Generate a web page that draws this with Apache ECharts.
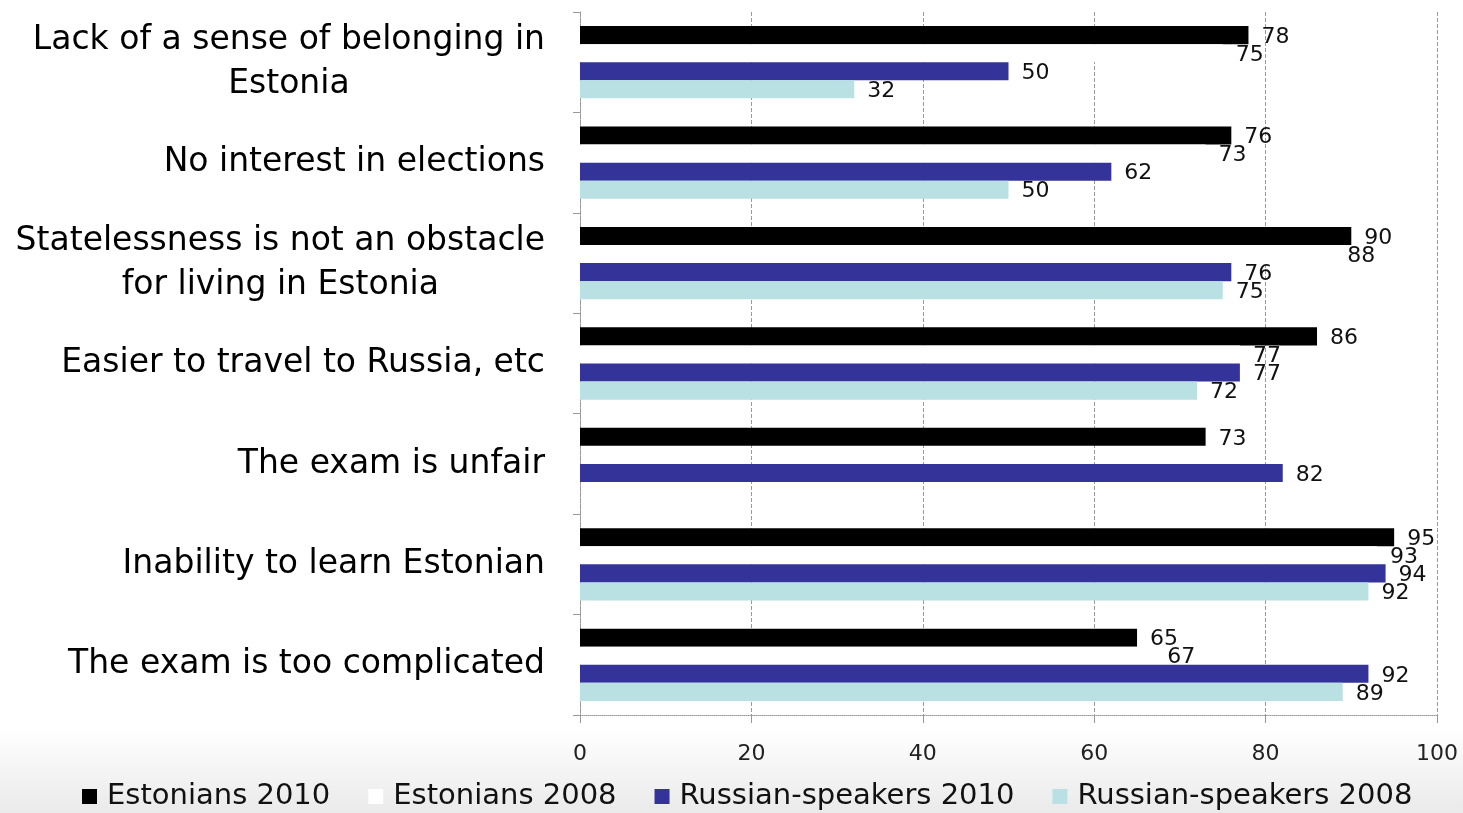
<!DOCTYPE html>
<html>
<head>
<meta charset="utf-8">
<script src="https://cdn.jsdelivr.net/npm/echarts@6/dist/echarts.min.js"></script>
<style>
  html, body { margin: 0; padding: 0; background: #fff; }
  #chart { width: 1463px; height: 813px; }
</style>
</head>
<body>
<div id="chart"></div>
<script>
// Reasons for not applying for citizenship, % agreeing
const categories = [
  'Lack of a sense of belonging in\nEstonia',
  'No interest in elections',
  'Statelessness is not an obstacle\nfor living in Estonia',
  'Easier to travel to Russia, etc',
  'The exam is unfair',
  'Inability to learn Estonian',
  'The exam is too complicated'
];
const seriesNames = ['Estonians 2010', 'Estonians 2008', 'Russian-speakers 2010', 'Russian-speakers 2008'];
const estonians2010 = [78, 76, 90, 86, 73, 95, 65];
const estonians2008 = [75, 73, 88, 77, null, 93, 67];
const russian2010 = [50, 62, 76, 77, 82, 94, 92];
const russian2008 = [32, 50, 75, 72, null, 92, 89];
const xTicks = [0, 20, 40, 60, 80, 100];

const FONT = 'DejaVu Sans';
const colors = ['#000000', '#ffffff', '#333399', '#b9e1e4'];
const seriesData = [estonians2010, estonians2008, russian2010, russian2008];

const chart = echarts.init(document.getElementById('chart'));

chart.setOption({
  animation: false,
  backgroundColor: new echarts.graphic.LinearGradient(0, 0, 0, 1, [
    { offset: 0, color: '#ffffff' },
    { offset: 0.895, color: '#ffffff' },
    { offset: 1, color: '#eaeaea' }
  ]),
  grid: { left: 580, right: 26, top: 12, bottom: 98, containLabel: false },
  legend: {
    left: 82,
    top: 782,
    padding: 0,
    itemWidth: 15,
    itemHeight: 15,
    itemGap: 38,
    icon: 'rect',
    data: seriesNames,
    textStyle: { fontFamily: FONT, fontSize: 29, color: '#111', padding: [0, 0, 0, 5] }
  },
  xAxis: {
    type: 'value',
    min: xTicks[0],
    max: xTicks[xTicks.length - 1],
    interval: 20,
    axisLine: { show: true, lineStyle: { color: '#999', type: 'dotted', width: 1 } },
    axisTick: { show: true, length: 8, lineStyle: { color: '#999' } },
    axisLabel: { margin: 28, fontFamily: FONT, fontSize: 22, color: '#222' },
    splitLine: { show: true, lineStyle: { color: '#999', type: 'dashed', width: 1 } }
  },
  yAxis: {
    type: 'category',
    inverse: true,
    data: categories,
    axisLine: { show: true, lineStyle: { color: '#999', type: 'dotted', width: 1 } },
    axisTick: { show: true, length: 7, lineStyle: { color: '#999' } },
    axisLabel: {
      margin: 35,
      color: '#000',
      formatter: function (v) {
        return v.split('\n').map(function (line) { return '{c|' + line + '}'; }).join('\n');
      },
      rich: {
        c: { align: 'center', fontFamily: FONT, fontSize: 33, lineHeight: 44, color: '#000' }
      }
    }
  },
  series: seriesNames.map(function (name, i) {
    return {
      name: name,
      type: 'bar',
      data: seriesData[i],
      barGap: '0%',
      barCategoryGap: '28%',
      itemStyle: { color: colors[i] },
      label: {
        show: true,
        position: 'right',
        distance: 13,
        offset: [0, 2],
        fontFamily: FONT,
        fontSize: 22,
        color: '#111'
      }
    };
  })
});
</script>
</body>
</html>
